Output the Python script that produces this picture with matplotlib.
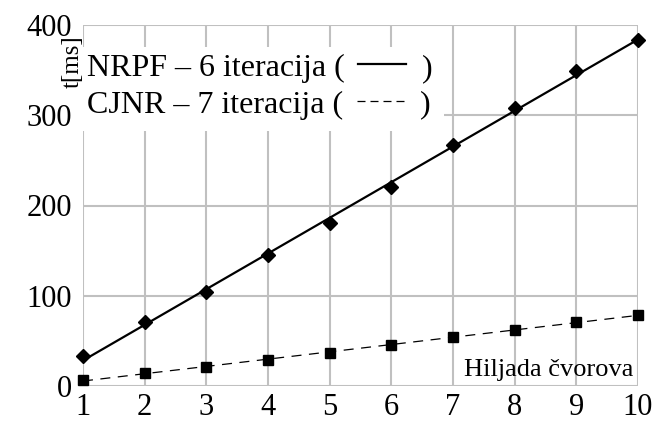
import numpy as np
import matplotlib
matplotlib.use("Agg")
import matplotlib.pyplot as plt
from matplotlib.lines import Line2D

plt.rcParams['font.family'] = ['Liberation Serif', 'DejaVu Serif']

# thousands of nodes
nodes = [1, 2, 3, 4, 5, 6, 7, 8, 9, 10]
# time in ms
nrpf = [33, 71, 104, 145, 181, 220, 267, 308, 349, 383]
cjnr = [6.5, 14, 21.5, 29, 37, 45.5, 54, 62, 70.5, 79]

xticks = nodes
yticks = [0, 100, 200, 300, 400]

fig = plt.figure(figsize=(6.54, 4.21), dpi=100)
ax = fig.add_axes([83 / 654, 35 / 421, 555 / 654, 361 / 421])

grid = '#c0c0c0'
for x in xticks:
    ax.axvline(x, color=grid, lw=1.5, zorder=1)
for y in yticks:
    ax.axhline(y, color=grid, lw=1.5, zorder=1)

# trend lines through the measured points
k1 = np.polyfit(nodes, nrpf, 1)
k2 = np.polyfit(nodes, cjnr, 1)
xs = np.array([nodes[0], nodes[-1]])
ax.plot(xs, np.polyval(k1, xs), color='black', lw=1.6, zorder=3, clip_on=False)
ax.plot(xs, np.polyval(k2, xs), color='black', lw=0.9, ls=(0, (8, 6)), zorder=3, clip_on=False)
ax.plot(nodes, nrpf, ls='none', marker='D', ms=7, color='black', zorder=4, clip_on=False)
ax.plot(nodes, cjnr, ls='none', marker='s', ms=7.5, color='black', zorder=4, clip_on=False)

ax.set_xlim(1, 10)
ax.set_ylim(0, 400)
ax.set_xticks(xticks)
ax.set_yticks(yticks)
ax.tick_params(axis='x', length=0, labelsize=22, pad=5)
ax.tick_params(axis='y', length=0, labelsize=22, pad=8)
for s in ax.spines.values():
    s.set_visible(False)

# legend box drawn by hand
ax.add_patch(plt.Rectangle((1, 283), 5.85, 93, facecolor='white', edgecolor='none', zorder=2))

fig.canvas.draw()
r = fig.canvas.get_renderer()
rows = [('NRPF – 6 iteracija (', 343, '-', 1.6), ('CJNR – 7 iteracija (', 303, (0, (6.4, 4)), 0.9)]
for label, y, ls, lw in rows:
    t = ax.text(1.06, y, label, fontsize=23, va='baseline', ha='left', zorder=5)
    bb = t.get_window_extent(r)
    x0 = bb.x1 / 654
    yb = ax.transData.transform((1, y))[1] / 421
    yl = yb + 12 / 421
    fig.add_artist(Line2D([x0 + 14 / 654, x0 + 62 / 654], [yl, yl], color='black', lw=lw, ls=ls))
    fig.text(x0 + 77 / 654, yb, ')', fontsize=23, va='baseline', ha='left')

fig.text(73 / 654, 1 - 62 / 421, 't[ms]', fontsize=18, rotation=90, ha='center', va='center')
ax.text(9.92, 5, 'Hiljada čvorova', fontsize=19, ha='right', va='bottom', zorder=5)

fig.savefig('out.png', dpi=100)
